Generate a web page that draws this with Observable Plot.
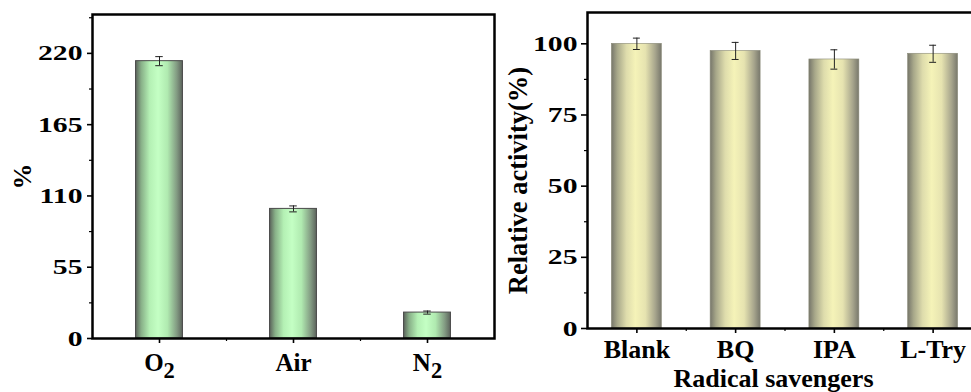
<!DOCTYPE html>
<html><head><meta charset="utf-8">
<script src="https://cdn.jsdelivr.net/npm/d3@7"></script>
<script src="https://cdn.jsdelivr.net/npm/@observablehq/plot@0.6"></script>
<style>
body{margin:0;background:#fff;}
#wrap{position:relative;width:971px;height:392px;overflow:hidden;background:#fff;}
#left{position:absolute;left:0;top:0;width:500px;height:392px;}
#right{position:absolute;left:500px;top:0;width:500px;height:392px;}
#wrap svg{max-width:none !important;width:500px;height:392px;}
#wrap svg, #wrap svg text{font-family:"Liberation Serif","Tinos","Times New Roman","Nimbus Roman","DejaVu Serif",serif !important;font-weight:bold;}
</style></head>
<body><div id="wrap"><div id="left"></div><div id="right"></div></div>
<script>
// ---- Left panel data ----
const gasCategories = ["O2", "Air", "N2"];
const gasValues = [214, 100, 20];
const gasErrors = [3.5, 2.3, 1.2];
const gasTicks = [0, 55, 110, 165, 220];
const gasMinorTicks = [27.5, 82.5, 137.5, 192.5, 247.5];
const gasLabel = "%";

// ---- Right panel data ----
const scavCategories = ["Blank", "BQ", "IPA", "L-Try"];
const scavValues = [100, 97.5, 94.5, 96.5];
const scavErrors = [2, 3, 3.4, 3];
const activityTicks = [0, 25, 50, 75, 100];
const activityMinorTicks = [12.5, 37.5, 62.5, 87.5];
const activityLabel = "Relative activity(%)";
const scavLabel = "Radical savengers";

const FONT = "Liberation Serif, Tinos, Times New Roman, DejaVu Serif, serif";

function addGradient(svg, id, stops) {
  const defs = d3.select(svg).insert("defs", ":first-child");
  const g = defs.append("linearGradient").attr("id", id)
    .attr("x1", "0").attr("x2", "1").attr("y1", "0").attr("y2", "0");
  stops.forEach(([o, c]) => g.append("stop").attr("offset", o).attr("stop-color", c));
}
function stretchText(svg, selector, sx) {
  svg.querySelectorAll(selector).forEach(t => {
    const tr = t.getAttribute("transform");
    if (tr) t.setAttribute("transform", tr + ` scale(${sx},1)`);
    else {
      const x = +t.getAttribute("x") || 0, y = +t.getAttribute("y") || 0;
      t.removeAttribute("x"); t.removeAttribute("y");
      t.setAttribute("transform", `translate(${x},${y}) scale(${sx},1)`);
    }
  });
}
function subscriptLabels(svg) {
  svg.querySelectorAll('g[aria-label="x-axis tick label"] text').forEach(t => {
    const m = /^([A-Za-z]+)(\d)$/.exec(t.textContent);
    if (!m) return;
    t.textContent = "";
    const ns = "http://www.w3.org/2000/svg";
    const a = document.createElementNS(ns, "tspan"); a.textContent = m[1];
    const b = document.createElementNS(ns, "tspan"); b.textContent = m[2];
    b.setAttribute("dy", "0.28em"); b.setAttribute("font-size", "0.9em");
    t.appendChild(a); t.appendChild(b);
  });
}

// ---- Left chart ----
const gasData = gasCategories.map((c, i) => ({i, c, v: gasValues[i], e: gasErrors[i]}));
const gasCaps = gasData.flatMap(d => [{i: d.i, y: d.v - d.e}, {i: d.i, y: d.v + d.e}]);
const hwL = 0.175, capL = 0.028;

const left = Plot.plot({
  width: 500, height: 392,
  marginLeft: 92, marginRight: 6, marginTop: 14, marginBottom: 54,
  style: {fontFamily: FONT, fontWeight: "bold", color: "black", background: "white", overflow: "visible"},
  x: {domain: [-0.5, gasCategories.length - 0.5]},
  y: {domain: [0, 250]},
  marks: [
    Plot.rect(gasData, {x1: d => d.i - hwL, x2: d => d.i + hwL, y1: 0, y2: "v",
      fill: "url(#gGreen)", stroke: "#4a4a4a", strokeWidth: 1}),
    Plot.ruleX(gasData, {x: "i", y1: d => d.v - d.e, y2: d => d.v + d.e, stroke: "#222", strokeWidth: 1}),
    Plot.ruleY(gasCaps, {y: "y", x1: d => d.i - capL, x2: d => d.i + capL, stroke: "#222", strokeWidth: 1}),
    Plot.axisY({ticks: gasTicks, tickSize: 5, tickPadding: 5, strokeWidth: 1.6, fontSize: 22, fontFamily: FONT,
      tickFormat: d => String(d), label: null}),
    Plot.axisY({ticks: gasMinorTicks, tickSize: 3, strokeWidth: 1.2, tickFormat: () => "", label: null}),
    Plot.axisX({ticks: gasCategories.map((c, i) => i), tickSize: 5, tickPadding: 10, strokeWidth: 1.6,
      fontSize: 25, fontFamily: FONT, tickFormat: i => gasCategories[i], label: null}),
    Plot.axisX({ticks: [0.5, 1.5], tickSize: 3, strokeWidth: 1.2, tickFormat: () => "", label: null}),
    Plot.text([gasLabel], {frameAnchor: "left", textAnchor: "middle", text: d => d, rotate: -90, dx: -70,
      fontSize: 26, fontFamily: FONT}),
    Plot.frame({stroke: "black", strokeWidth: 2.5})
  ]
});
addGradient(left, "gGreen", [[0, "#5a625a"], [0.12, "#88b088"], [0.3, "#b4f0b4"], [0.48, "#c4ffc4"], [0.68, "#b0eab0"], [0.88, "#829a82"], [1, "#5c635c"]]);
stretchText(left, 'g[aria-label="y-axis tick label"] text', 1.35);
subscriptLabels(left);
document.getElementById("left").appendChild(left);

// ---- Right chart ----
const scavData = scavCategories.map((c, i) => ({i, c, v: scavValues[i], e: scavErrors[i]}));
const scavCaps = scavData.flatMap(d => [{i: d.i, y: d.v - d.e}, {i: d.i, y: d.v + d.e}]);
const hwR = 0.253, capR = 0.035;

const right = Plot.plot({
  width: 500, height: 392,
  marginLeft: 87, marginRight: 18, marginTop: 12, marginBottom: 64,
  style: {fontFamily: FONT, fontWeight: "bold", color: "black", background: "transparent", overflow: "visible"},
  x: {domain: [-0.5, scavCategories.length - 0.5]},
  y: {domain: [0, 111]},
  marks: [
    Plot.rect(scavData, {x1: d => d.i - hwR, x2: d => d.i + hwR, y1: 0, y2: "v",
      fill: "url(#gYellow)", stroke: "#8a8a78", strokeWidth: 0.6}),
    Plot.ruleX(scavData, {x: "i", y1: d => d.v - d.e, y2: d => d.v + d.e, stroke: "#222", strokeWidth: 1}),
    Plot.ruleY(scavCaps, {y: "y", x1: d => d.i - capR, x2: d => d.i + capR, stroke: "#222", strokeWidth: 1}),
    Plot.axisY({ticks: activityTicks, tickSize: 6, tickPadding: 4, strokeWidth: 1.6, fontSize: 22, fontFamily: FONT,
      tickFormat: d => String(d), label: null}),
    Plot.axisY({ticks: activityMinorTicks, tickSize: 3, strokeWidth: 1.2, tickFormat: () => "", label: null}),
    Plot.axisX({ticks: scavCategories.map((c, i) => i), tickSize: 5, tickPadding: 6, strokeWidth: 1.6,
      fontSize: 26, fontFamily: FONT, tickFormat: i => scavCategories[i], label: null}),
    Plot.axisX({ticks: [0.5, 1.5, 2.5], tickSize: 3, strokeWidth: 1.2, tickFormat: () => "", label: null}),
    Plot.text([activityLabel], {frameAnchor: "left", textAnchor: "middle", text: d => d, rotate: -90, dx: -69, dy: 10,
      fontSize: 26.5, fontFamily: FONT}),
    Plot.text([scavLabel], {frameAnchor: "bottom", textAnchor: "middle", text: d => d, lineAnchor: "top", dx: -11.5, dy: 40.5,
      fontSize: 26, fontFamily: FONT}),
    Plot.frame({stroke: "black", strokeWidth: 2.5})
  ]
});
addGradient(right, "gYellow", [[0, "#76766a"], [0.12, "#a8a88a"], [0.3, "#dedcac"], [0.48, "#f5f3b8"], [0.68, "#e6e3b0"], [0.88, "#a6a48c"], [1, "#78786c"]]);
stretchText(right, 'g[aria-label="y-axis tick label"] text', 1.35);
document.getElementById("right").appendChild(right);
</script>
</body></html>
